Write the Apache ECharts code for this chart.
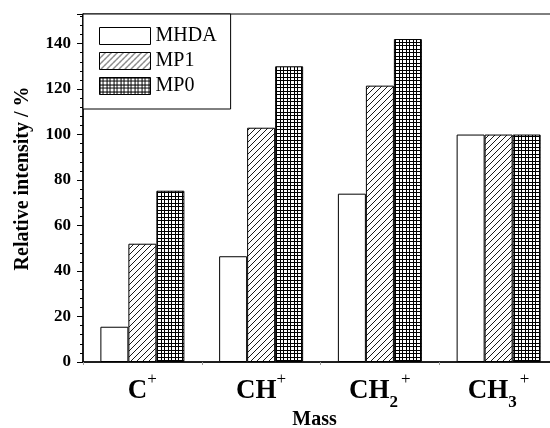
<!DOCTYPE html>
<html>
<head>
<meta charset="utf-8">
<script src="https://cdn.jsdelivr.net/npm/echarts@6/dist/echarts.min.js"></script>
<style>
html,body{margin:0;padding:0;background:#fff;}
#chart{width:550px;height:428px;}
</style>
</head>
<body>
<div id="chart"></div>
<script>
const categories = ['C+', 'CH+', 'CH2+', 'CH3+'];
const seriesNames = ['MHDA', 'MP1', 'MP0'];
const mhda = [15.5, 46.5, 74, 100];
const mp1 = [52, 103, 121.5, 100];
const mp0 = [75.3, 130, 142, 100];
const yMin = 0, yMax = 153, yInterval = 20;

function makeHatch() {
  const s = 6;
  const c = document.createElement('canvas');
  c.width = s; c.height = s;
  const g = c.getContext('2d');
  g.fillStyle = '#fff'; g.fillRect(0, 0, s, s);
  g.strokeStyle = '#000'; g.lineWidth = 0.9;
  g.beginPath();
  g.moveTo(-1, s + 1); g.lineTo(s + 1, -1);
  g.moveTo(-1, 1); g.lineTo(1, -1);
  g.moveTo(s - 1, s + 1); g.lineTo(s + 1, s - 1);
  g.stroke();
  return c;
}
function makeGrid() {
  const s = 7;
  const c = document.createElement('canvas');
  c.width = s; c.height = s;
  const g = c.getContext('2d');
  g.fillStyle = '#fff'; g.fillRect(0, 0, s, s);
  g.fillStyle = '#000';
  g.fillRect(0, 0, 1, s); g.fillRect(3, 0, 1, s);
  g.fillRect(0, 0, s, 1); g.fillRect(0, 3, s, 1);
  return c;
}
const fills = ['#ffffff', { image: makeHatch(), repeat: 'repeat' }, { image: makeGrid(), repeat: 'repeat' }];
const values = [mhda, mp1, mp0];

function catLabel(s) {
  const main = s.replace(/[0-9+]/g, '');
  const d = (s.match(/[0-9]/) || [''])[0];
  return '{main|' + main + '}' + (d ? '{sub|' + d + '}{sup2|+}' : '{sup|+}');
}

const serif = 'Liberation Serif';
const chart = echarts.init(document.getElementById('chart'), null, { renderer: 'canvas' });
chart.setOption({
  animation: false,
  backgroundColor: '#fff',
  grid: { left: 83, top: 14, width: 475, height: 348, show: true, borderColor: '#000', borderWidth: 1, containLabel: false, outerBoundsMode: 'none' },
  legend: {
    left: 83, top: 14,
    orient: 'vertical',
    data: seriesNames,
    icon: 'rect',
    itemWidth: 51, itemHeight: 17, itemGap: 5,
    padding: [12, 14, 13, 16],
    backgroundColor: '#fff', borderColor: '#000', borderWidth: 1,
    textStyle: { fontFamily: serif, fontSize: 20, color: '#000' },
    itemStyle: { borderColor: '#000', borderWidth: 1 }
  },
  xAxis: {
    type: 'category',
    data: categories,
    name: 'Mass',
    nameLocation: 'middle',
    nameGap: 48,
    nameMoveOverlap: false,
    nameTextStyle: { fontFamily: serif, fontSize: 20, fontWeight: 'bold', color: '#000', padding: [0, 12, 0, 0] },
    axisLine: { lineStyle: { color: '#000', width: 1.5 } },
    axisTick: { show: true, length: 3, lineStyle: { color: '#999' } },
    axisLabel: {
      interval: 0,
      margin: 9,
      formatter: catLabel,
      color: '#000',
      rich: {
        main: { fontFamily: serif, fontSize: 27, fontWeight: 'bold', color: '#000', lineHeight: 40, verticalAlign: 'middle' },
        sub: { fontFamily: serif, fontSize: 17, fontWeight: 'bold', color: '#000', lineHeight: 8, verticalAlign: 'bottom' },
        sup: { fontFamily: serif, fontSize: 17, color: '#000', lineHeight: 25, verticalAlign: 'top' },
        sup2: { fontFamily: serif, fontSize: 17, color: '#000', lineHeight: 25, verticalAlign: 'top', padding: [0, 0, 0, 3] }
      }
    }
  },
  yAxis: {
    type: 'value',
    min: yMin, max: yMax, interval: yInterval,
    name: 'Relative intensity / %',
    nameLocation: 'middle',
    nameGap: 50,
    nameMoveOverlap: false,
    nameTextStyle: { fontFamily: serif, fontSize: 20, fontWeight: 'bold', color: '#000', padding: [0, 0, 0, 19] },
    axisLine: { show: true, lineStyle: { color: '#000', width: 1.5 } },
    axisTick: { show: true, length: 6, lineStyle: { color: '#000' } },
    minorTick: { show: true, splitNumber: 5, length: 3, lineStyle: { color: '#000' } },
    splitLine: { show: false },
    axisLabel: {
      margin: 12,
      fontFamily: serif, fontSize: 17, fontWeight: 'bold', color: '#000',
      showMaxLabel: false,
      formatter: v => (v % yInterval === 0 ? String(v) : '')
    }
  },
  series: seriesNames.map((n, i) => ({
    name: n,
    type: 'bar',
    data: values[i],
    barWidth: 28,
    barGap: '0%',
    itemStyle: { color: fills[i], borderColor: '#000', borderWidth: 1 }
  }))
});
</script>
</body>
</html>
